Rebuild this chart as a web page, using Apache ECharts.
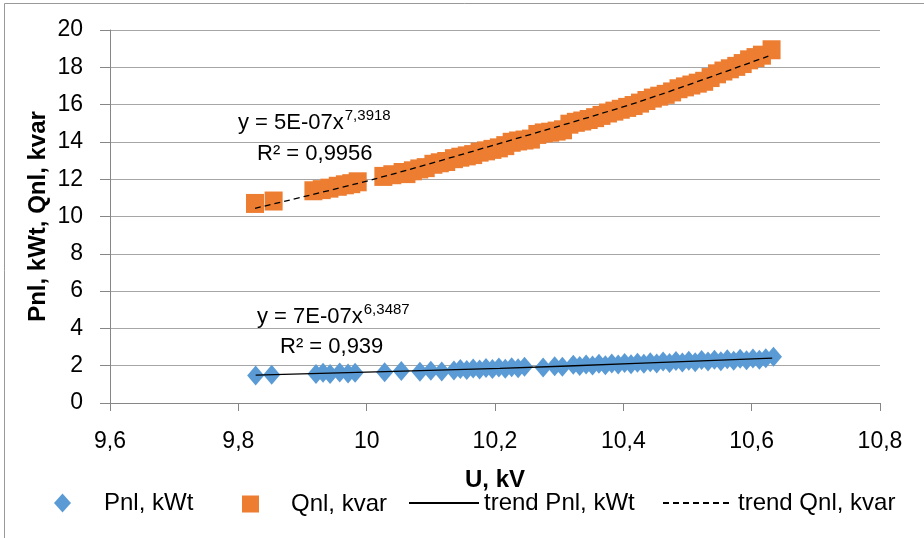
<!DOCTYPE html>
<html>
<head>
<meta charset="utf-8">
<script src="https://cdn.jsdelivr.net/npm/echarts@6/dist/echarts.min.js"></script>
<style>
  html, body { margin: 0; padding: 0; background: #fff; }
  #chart { width: 924px; height: 538px; }
</style>
</head>
<body>
<div id="chart"></div>
<script>
// voltage U, kV and no-load losses
const qnlU = [9.826, 9.855,
  9.917, 9.930, 9.942, 9.955, 9.966, 9.976, 9.986,
  10.026, 10.040, 10.056, 10.062, 10.072, 10.082, 10.092, 10.104, 10.114, 10.124,
  10.136, 10.146, 10.156, 10.166, 10.176, 10.186, 10.196, 10.206, 10.216, 10.226,
  10.236, 10.246, 10.256, 10.266, 10.276, 10.286, 10.296, 10.306, 10.316, 10.326,
  10.336, 10.346, 10.356, 10.366, 10.376, 10.386, 10.396, 10.406, 10.416, 10.426,
  10.436, 10.446, 10.456, 10.466, 10.476, 10.486, 10.496, 10.506, 10.516, 10.526,
  10.536, 10.546, 10.556, 10.566, 10.576, 10.586, 10.596, 10.606, 10.616, 10.631];
const qnlVals = [10.70, 10.83,
  11.38, 11.44, 11.52, 11.62, 11.70, 11.76, 11.86,
  12.15, 12.24, 12.36, 12.30, 12.45, 12.55, 12.62, 12.80, 12.88, 12.95,
  13.10, 13.18, 13.25, 13.32, 13.45, 13.52, 13.60, 13.68, 13.80, 13.98,
  14.05, 14.10, 14.15, 14.40, 14.48, 14.52, 14.58, 14.65, 14.95, 15.05,
  15.12, 15.20, 15.30, 15.42, 15.55, 15.65, 15.75, 15.85, 15.95, 16.08,
  16.22, 16.35, 16.45, 16.55, 16.68, 16.85, 16.95, 17.05, 17.15, 17.25,
  17.45, 17.65, 17.80, 17.92, 18.05, 18.20, 18.40, 18.52, 18.65, 18.94];

const pnlU = [9.827, 9.852,
  9.921, 9.932, 9.943, 9.958, 9.971, 9.982,
  10.028, 10.054, 10.083, 10.100, 10.117,
  10.136, 10.146, 10.156, 10.166, 10.176, 10.186, 10.196, 10.206, 10.216, 10.226,
  10.236, 10.246, 10.275, 10.293, 10.305, 10.322, 10.332, 10.342, 10.352, 10.362,
  10.372, 10.382, 10.392, 10.402, 10.412, 10.422, 10.432, 10.442, 10.452, 10.462,
  10.472, 10.482, 10.492, 10.502, 10.512, 10.522, 10.532, 10.542, 10.552, 10.562,
  10.572, 10.582, 10.592, 10.602, 10.612, 10.622, 10.634];
const pnlVals = [1.47, 1.52,
  1.55, 1.62, 1.56, 1.63, 1.58, 1.62,
  1.65, 1.71, 1.67, 1.73, 1.69,
  1.74, 1.82, 1.77, 1.85, 1.79, 1.87, 1.82, 1.90, 1.84, 1.92,
  1.86, 1.94, 1.90, 1.97, 1.95, 2.05, 1.99, 2.07, 2.01, 2.10,
  2.03, 2.12, 2.06, 2.14, 2.08, 2.16, 2.10, 2.19, 2.12, 2.23,
  2.15, 2.25, 2.17, 2.27, 2.19, 2.30, 2.22, 2.32, 2.24, 2.34,
  2.27, 2.37, 2.29, 2.39, 2.32, 2.40, 2.48];

// trend lines, points
const trendPU = [9.827, 10.2075, 10.42, 10.632];
const trendP = [1.50, 1.86, 2.12, 2.41];
const trendQU = [9.826, 10.01, 10.2075, 10.425, 10.626];
const trendQ = [10.44, 11.99, 13.92, 16.16, 18.6];

const FONT = '"Liberation Sans", Arial, sans-serif';
const zip = (xs, ys) => xs.map((x, i) => [x, ys[i]]);
const comma = v => String(+(+v).toFixed(1)).replace('.', ',');

const eqRich = {
  m: {fontSize: 22, fontFamily: FONT, color: '#000', lineHeight: 26, verticalAlign: 'bottom'},
  s: {fontSize: 15, fontFamily: FONT, color: '#000', lineHeight: 26, verticalAlign: 'top', padding: [0, 0, 0, 1]}
};
const legendText = {fontSize: 24, color: '#000', fontFamily: FONT};

const chart = echarts.init(document.getElementById('chart'));

chart.setOption({
  animation: false,
  backgroundColor: '#fff',
  textStyle: {fontFamily: FONT},
  grid: {left: 110, right: 44, top: 30, bottom: 135},
  xAxis: {
    type: 'value', min: 9.6, max: 10.8, interval: 0.2,
    name: 'U, kV', nameLocation: 'middle', nameGap: 65,
    nameTextStyle: {fontSize: 24, fontWeight: 'bold', color: '#000', fontFamily: FONT},
    axisLine: {lineStyle: {color: '#868686'}},
    axisTick: {show: true, length: 8, lineStyle: {color: '#868686'}},
    axisLabel: {fontSize: 23, color: '#000', margin: 27, formatter: comma, fontFamily: FONT},
    splitLine: {show: false}
  },
  yAxis: {
    type: 'value', min: 0, max: 20, interval: 2,
    name: 'Pnl, kWt, Qnl, kvar', nameLocation: 'middle', nameGap: 60, nameMoveOverlap: false,
    nameTextStyle: {fontSize: 24, fontWeight: 'bold', color: '#000', fontFamily: FONT},
    axisLine: {show: true, lineStyle: {color: '#868686'}},
    axisTick: {show: true, length: 10, lineStyle: {color: '#868686'}},
    axisLabel: {fontSize: 23, color: '#000', margin: 27, fontFamily: FONT},
    splitLine: {lineStyle: {color: '#a6a6a6'}}
  },
  legend: [
    {data: [{name: 'Pnl, kWt', icon: 'diamond'}], left: 49, top: 486, itemWidth: 17, itemHeight: 19,
      textStyle: Object.assign({padding: [0, 0, 0, 28]}, legendText)},
    {data: [{name: 'Qnl, kvar', icon: 'rect'}], left: 237, top: 487, itemWidth: 17, itemHeight: 17,
      textStyle: Object.assign({padding: [0, 0, 0, 27]}, legendText)},
    {data: ['trend Pnl, kWt'], left: 403, top: 486, itemWidth: 70, itemHeight: 19,
      itemStyle: {opacity: 0}, textStyle: legendText},
    {data: ['trend Qnl, kvar'], left: 657, top: 486, itemWidth: 70, itemHeight: 19,
      itemStyle: {opacity: 0}, textStyle: legendText}
  ],
  series: [
    {
      name: 'Pnl, kWt', type: 'scatter', symbol: 'diamond', symbolSize: [17, 20],
      itemStyle: {color: '#5B9BD5', opacity: 1},
      data: zip(pnlU, pnlVals)
    },
    {
      name: 'Qnl, kvar', type: 'scatter', symbol: 'rect', symbolSize: [18, 19],
      itemStyle: {color: '#ED7D31', opacity: 1},
      data: zip(qnlU, qnlVals)
    },
    {
      name: 'trend Pnl, kWt', type: 'line', symbol: 'none', smooth: 0.3,
      lineStyle: {color: '#000', width: 1.3},
      itemStyle: {color: '#000'},
      data: zip(trendPU, trendP)
    },
    {
      name: 'trend Qnl, kvar', type: 'line', symbol: 'none', smooth: 0.3,
      lineStyle: {color: '#000', width: 1.3, type: [6, 4]},
      itemStyle: {color: '#000'},
      data: zip(trendQU, trendQ)
    }
  ],
  graphic: [
    {type: 'polyline', silent: true, shape: {points: [[4.5, 538], [4.5, 3.5], [924, 3.5]]},
      style: {fill: null, stroke: '#999', lineWidth: 1}},
    {type: 'text', x: 238, y: 108, style: {text: '{m|y = 5E-07x}{s|7,3918}', rich: eqRich}},
    {type: 'text', x: 257, y: 154, style: {text: 'R² = 0,9956', font: '22px ' + FONT, fill: '#000', verticalAlign: 'middle'}},
    {type: 'text', x: 257, y: 302, style: {text: '{m|y = 7E-07x}{s|6,3487}', rich: eqRich}},
    {type: 'text', x: 280, y: 346.5, style: {text: 'R² = 0,939', font: '22px ' + FONT, fill: '#000', verticalAlign: 'middle'}}
  ]
});
</script>
</body>
</html>
